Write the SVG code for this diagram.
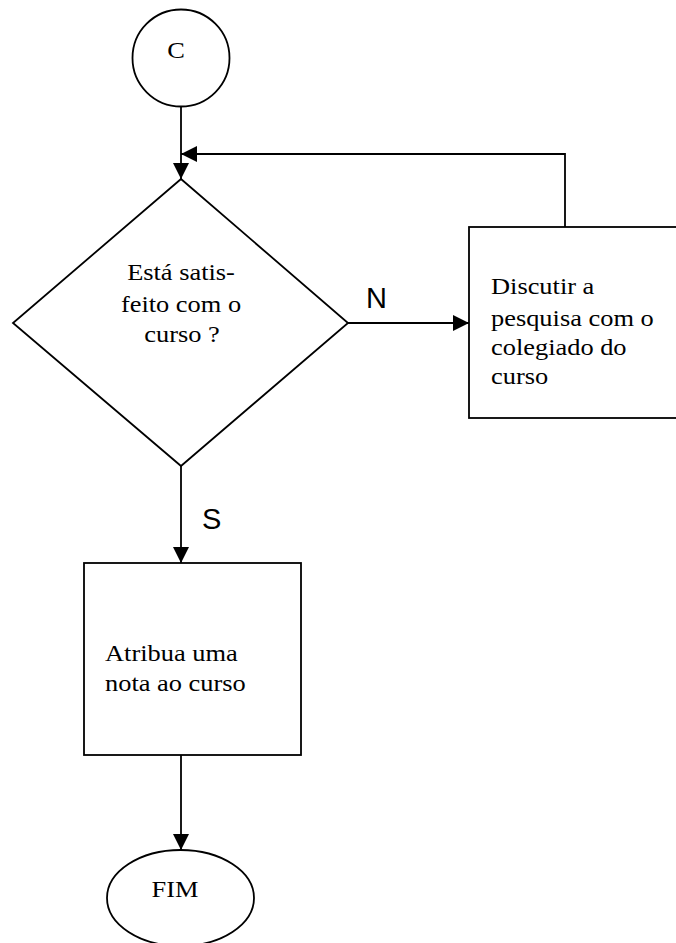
<svg xmlns="http://www.w3.org/2000/svg" width="676" height="943" viewBox="0 0 676 943">
<style>
.shape{fill:#fff;stroke:#000;stroke-width:1.8}
.line{fill:none;stroke:#000;stroke-width:1.8}
.t{font-family:"Liberation Serif","Times New Roman",serif;font-size:24px;fill:#000}
.lbl{font-family:"Liberation Sans",Arial,sans-serif;font-size:29px;fill:#000}
.mid{text-anchor:middle}
</style>
<defs>
<marker id="ah" markerUnits="userSpaceOnUse" markerWidth="16" markerHeight="16" refX="16" refY="8" orient="auto">
<path d="M0,0 L16,8 L0,16 Z" fill="#000"/>
</marker>
</defs>
<g id="connectors">
<line class="line" x1="181" y1="107" x2="181" y2="179" marker-end="url(#ah)"/>
<polyline class="line" points="565,227 565,154 181,154" marker-end="url(#ah)"/>
<line class="line" x1="348" y1="323" x2="469" y2="323" marker-end="url(#ah)"/>
<line class="line" x1="181" y1="466" x2="181" y2="563" marker-end="url(#ah)"/>
<line class="line" x1="181" y1="755" x2="181" y2="850" marker-end="url(#ah)"/>
<text class="lbl" x="366" y="308">N</text>
<text class="lbl" x="202" y="529">S</text>
</g>
<g id="start">
<circle class="shape" cx="181" cy="58" r="48.5"/>
<text class="t mid" transform="translate(176,58) scale(1.1,1)">C</text>
</g>
<g id="decision">
<polygon class="shape" points="181,179 348,323 181,466 13,323"/>
<text class="t mid" transform="translate(181,280) scale(1.1,1)">Está satis-</text>
<text class="t mid" transform="translate(181,312) scale(1.1,1)">feito com o</text>
<text class="t mid" transform="translate(182,342) scale(1.1,1)">curso ?</text>
</g>
<g id="discutir">
<rect class="shape" x="469" y="227" width="215" height="191"/>
<text class="t" transform="translate(491,294) scale(1.1,1)">Discutir a</text>
<text class="t" transform="translate(491,326) scale(1.1,1)">pesquisa com o</text>
<text class="t" transform="translate(491,355) scale(1.1,1)">colegiado do</text>
<text class="t" transform="translate(491,384) scale(1.1,1)">curso</text>
</g>
<g id="atribua">
<rect class="shape" x="84" y="563" width="217" height="192"/>
<text class="t" transform="translate(105,661) scale(1.1,1)">Atribua uma</text>
<text class="t" transform="translate(105,691) scale(1.1,1)">nota ao curso</text>
</g>
<g id="fim">
<ellipse class="shape" cx="180.5" cy="898" rx="73.5" ry="48"/>
<text class="t mid" transform="translate(175,897) scale(1.1,1)">FIM</text>
</g>
</svg>
